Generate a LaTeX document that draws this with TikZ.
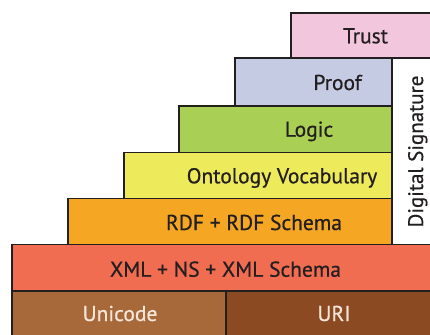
\documentclass[tikz,border=0pt]{standalone}
\usepackage{fontspec}
\setmainfont{PT Sans}[FakeBold=0.6]
\definecolor{ctrust}{HTML}{F2C6DD}
\definecolor{cproof}{HTML}{C6CBE4}
\definecolor{clogic}{HTML}{A9CF54}
\definecolor{conto}{HTML}{EDEA5B}
\definecolor{crdf}{HTML}{F5A623}
\definecolor{cxml}{HTML}{F16D52}
\definecolor{cuni}{HTML}{A8693A}
\definecolor{curi}{HTML}{8B4A21}
\definecolor{cline}{HTML}{231F20}
\definecolor{clight}{HTML}{F5E6D8}
\begin{document}
\begin{tikzpicture}[x=1pt,y=-1pt,
  layer/.style={draw=cline, line width=1.8pt, anchor=north west, inner sep=0pt, outer sep=0pt},
  lbl/.style={anchor=base, inner sep=0pt, text=cline, font=\fontsize{21.5}{24}\selectfont},
  lbllight/.style={lbl, text=clight}]
\useasboundingbox (0,0) rectangle (430,334);
\clip (0,0) rectangle (430,334);
\node[layer, fill=ctrust, minimum width=149pt, minimum height=45pt] (trust) at (291,13) {};
\node[layer, fill=cproof, minimum width=157pt, minimum height=48pt] (proof) at (235,58) {};
\node[layer, fill=clogic, minimum width=213pt, minimum height=46.5pt] (logic) at (179,106) {};
\node[layer, fill=conto, minimum width=268pt, minimum height=46pt] (onto) at (124,152.5) {};
\node[layer, fill=crdf, minimum width=324pt, minimum height=46pt] (rdf) at (68,198.5) {};
\node[layer, fill=white, minimum width=48pt, minimum height=186.5pt] (sig) at (392,58) {};
\node[layer, fill=cxml, minimum width=428pt, minimum height=46.5pt] (xml) at (12,244.5) {};
\node[layer, fill=cuni, minimum width=214pt, minimum height=49pt] (uni) at (12,291) {};
\node[layer, fill=curi, minimum width=214pt, minimum height=49pt] (uri) at (226,291) {};
\node[lbl] (ttrust) at (365.5,43.3) {Trust};
\node[lbl] (tproof) at (337.5,90) {Proof};
\node[lbl] (tlogic) at (309,136.7) {Logic};
\node[lbl] (tonto) at (282,183.3) {Ontology Vocabulary};
\node[lbl] (trdf) at (254,230) {RDF + RDF Schema};
\node[lbl] (txml) at (225.5,276.7) {XML + NS + XML Schema};
\node[lbllight] (tuni) at (120,321) {Unicode};
\node[lbllight] (turi) at (334,321) {URI};
\node[lbl, rotate=90, font=\fontsize{21}{23}\selectfont] (tsig) at (423,151.5) {Digital Signature};
\end{tikzpicture}
\end{document}
